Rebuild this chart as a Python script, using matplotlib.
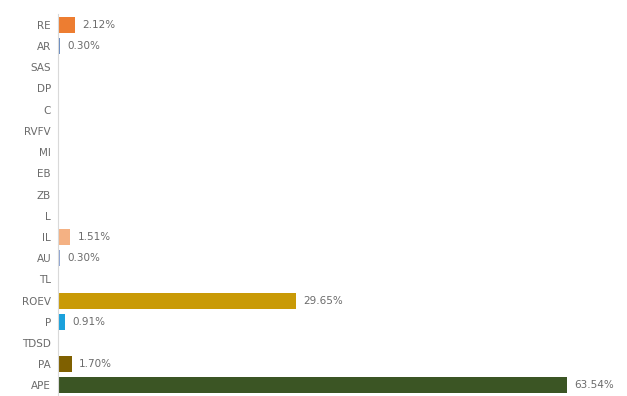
import matplotlib.pyplot as plt

categories = ["RE", "AR", "SAS", "DP", "C", "RVFV", "MI", "EB", "ZB", "L",
              "IL", "AU", "TL", "ROEV", "P", "TDSD", "PA", "APE"]
shares = [2.12, 0.30, 0, 0, 0, 0, 0, 0, 0, 0,
          1.51, 0.30, 0, 29.65, 0.91, 0, 1.70, 63.54]
colors = ["#ED7D31", "#6A8CC0", "#A5A5A5", "#FFC000", "#4472C4", "#70AD47",
          "#264478", "#9E480E", "#636363", "#997300",
          "#F4B183", "#8FA6D2", "#A9D18E", "#C99A06", "#1BA1DC", "#D9D9D9",
          "#7F6000", "#3B5524"]

fig = plt.figure(figsize=(6.27, 3.96), dpi=100)
ax = fig.add_axes([58 / 627, 0.0, 561 / 627, 0.964])

pos = list(range(len(categories)))
ax.barh(pos, shares, height=0.75, color=colors)
for y, v in zip(pos, shares):
    if v > 0:
        ax.text(v + 0.9, y, f"{v:.2f}%", va="center", ha="left",
                fontsize=7.5, color="#6B6B6B")

ax.set_xlim(0, 70)
ax.set_ylim(len(categories) - 0.5, -0.5)
ax.set_yticks(pos)
ax.set_yticklabels(categories, fontsize=7.5, color="#6B6B6B")
ax.tick_params(axis="y", length=0, pad=5)
ax.set_xticks([])
for side in ["top", "right", "bottom"]:
    ax.spines[side].set_visible(False)
ax.spines["left"].set_color("#D9D9D9")

fig.savefig("out.png", dpi=100)
